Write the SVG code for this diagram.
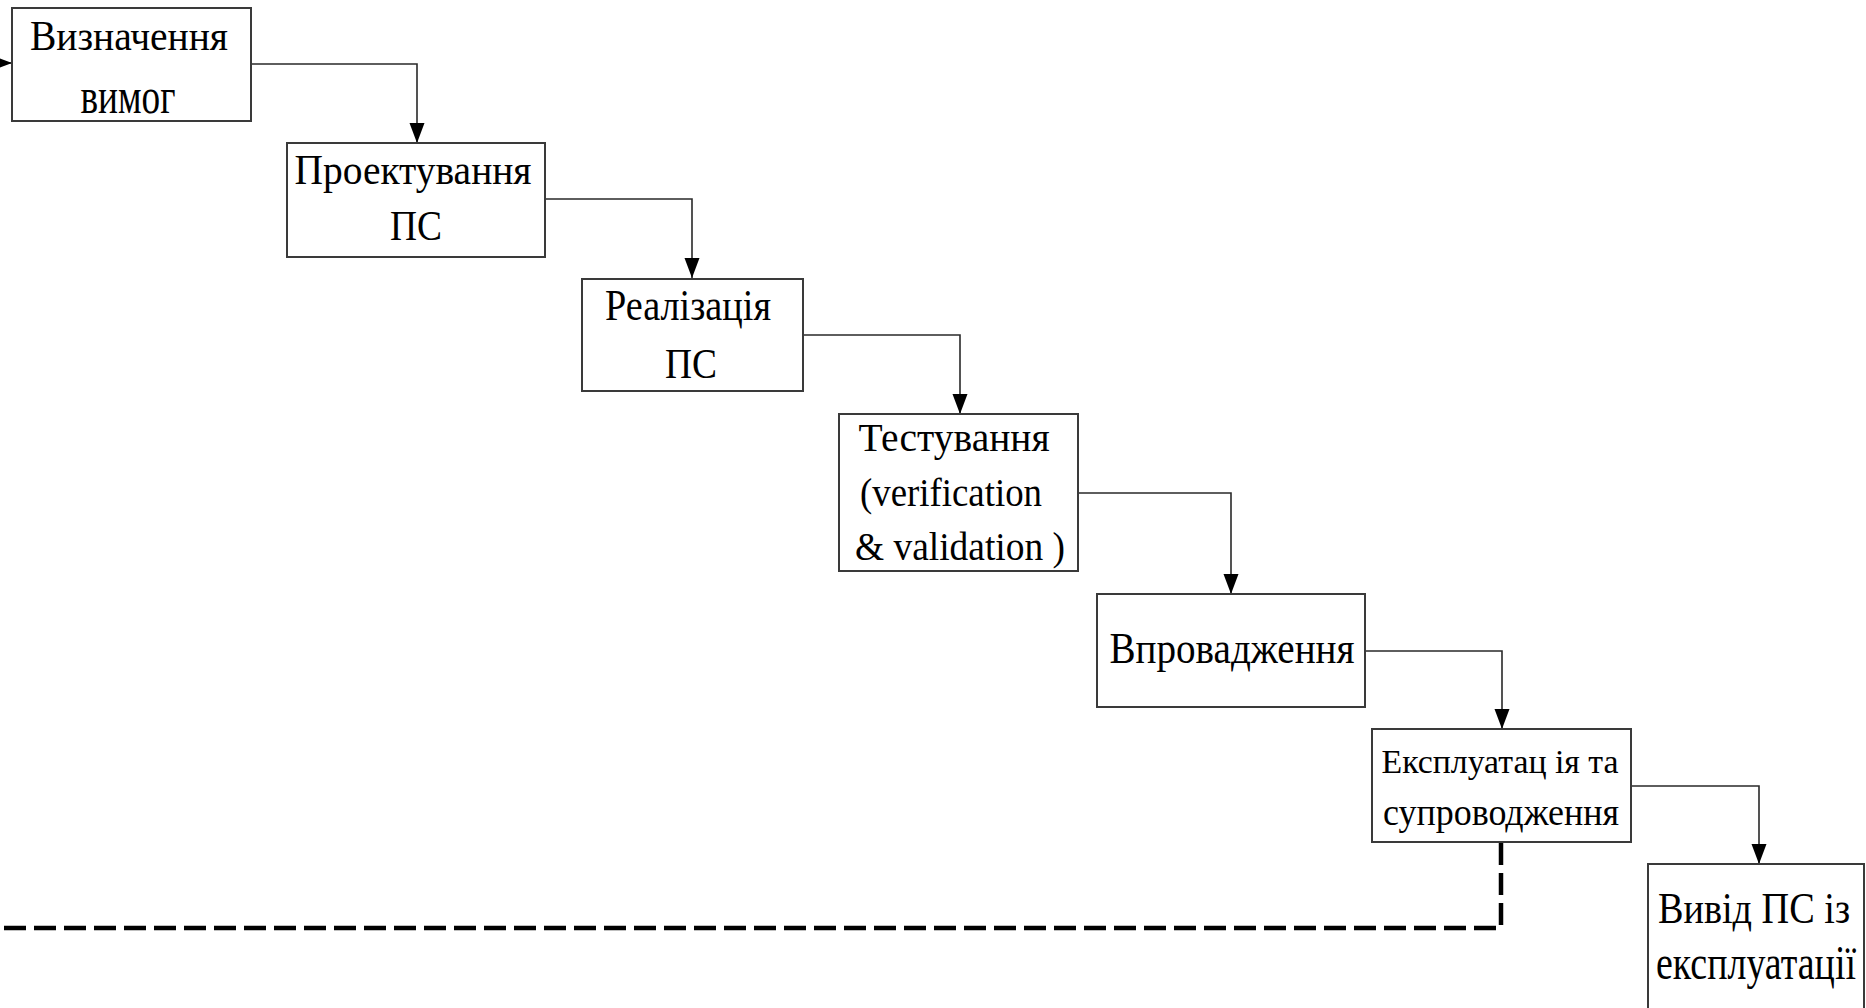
<svg xmlns="http://www.w3.org/2000/svg" width="1866" height="1008" viewBox="0 0 1866 1008">
  <style>
    .box { fill: #ffffff; stroke: #3a3a3a; stroke-width: 2; }
    .lbl { font-family: "Liberation Serif", "Times New Roman", serif; fill: #000000; text-anchor: middle; }
    .flow { fill: none; stroke: #2a2a2a; stroke-width: 1.6; }
    .loop { fill: none; stroke: #000000; stroke-width: 4.5; stroke-dasharray: 22 8; }
  </style>
  <defs>
    <marker id="arrow" markerUnits="userSpaceOnUse" markerWidth="20" markerHeight="16" refX="20" refY="8" orient="auto">
      <path d="M0,0.5 L20,8 L0,15.5 z" fill="#000000"/>
    </marker>
  </defs>
  <rect width="1866" height="1008" fill="#ffffff"/>

  <!-- connectors -->
  <g id="connectors">
    <path class="flow" d="M-10,63 H12" marker-end="url(#arrow)"/>
    <path class="flow" d="M251,64 H417 V143" marker-end="url(#arrow)"/>
    <path class="flow" d="M545,199 H692 V278" marker-end="url(#arrow)"/>
    <path class="flow" d="M803,335 H960 V414" marker-end="url(#arrow)"/>
    <path class="flow" d="M1078,493 H1231 V594" marker-end="url(#arrow)"/>
    <path class="flow" d="M1365,651 H1502 V729" marker-end="url(#arrow)"/>
    <path class="flow" d="M1631,786 H1759 V864" marker-end="url(#arrow)"/>
    <path class="loop" d="M1501,843 V928 H0"/>
  </g>

  <!-- stages -->
  <g id="requirements">
    <rect class="box" x="12" y="8" width="239" height="113"/>
    <text class="lbl" x="129" y="50" font-size="42" textLength="198" lengthAdjust="spacingAndGlyphs">Визначення</text>
    <text class="lbl" x="128" y="113" font-size="50" textLength="95" lengthAdjust="spacingAndGlyphs">вимог</text>
  </g>

  <g id="design">
    <rect class="box" x="287" y="143" width="258" height="114"/>
    <text class="lbl" x="413" y="184" font-size="42" textLength="237" lengthAdjust="spacingAndGlyphs">Проектування</text>
    <text class="lbl" x="416" y="240" font-size="42" textLength="52" lengthAdjust="spacingAndGlyphs">ПС</text>
  </g>

  <g id="implementation">
    <rect class="box" x="582" y="279" width="221" height="112"/>
    <text class="lbl" x="688" y="320" font-size="44" textLength="166" lengthAdjust="spacingAndGlyphs">Реалізація</text>
    <text class="lbl" x="691" y="378" font-size="42" textLength="52" lengthAdjust="spacingAndGlyphs">ПС</text>
  </g>

  <g id="testing">
    <rect class="box" x="839" y="414" width="239" height="157"/>
    <g transform="translate(954,0) scale(0.85,1)">
      <text class="lbl" x="0" y="451" font-size="41" textLength="225" lengthAdjust="spacingAndGlyphs">Тестування</text>
    </g>
    <g transform="translate(951,0) scale(0.85,1)">
      <text class="lbl" x="0" y="506" font-size="41" textLength="214" lengthAdjust="spacingAndGlyphs">(verification</text>
    </g>
    <g transform="translate(960,0) scale(0.85,1)">
      <text class="lbl" x="0" y="560" font-size="40" textLength="247" lengthAdjust="spacingAndGlyphs">&amp; validation )</text>
    </g>
  </g>

  <g id="deployment">
    <rect class="box" x="1097" y="594" width="268" height="113"/>
    <text class="lbl" x="1232" y="663" font-size="45" textLength="245" lengthAdjust="spacingAndGlyphs">Впровадження</text>
  </g>

  <g id="operation">
    <rect class="box" x="1372" y="729" width="259" height="113"/>
    <text class="lbl" x="1500" y="773" font-size="34" textLength="237" lengthAdjust="spacingAndGlyphs">Експлуатац ія та</text>
    <text class="lbl" x="1501" y="825" font-size="38" textLength="236" lengthAdjust="spacingAndGlyphs">супроводження</text>
  </g>

  <!-- last stage runs past the right and bottom edges of the sheet -->
  <g id="retirement">
    <rect class="box" x="1648" y="864" width="216" height="160"/>
    <text class="lbl" x="1754" y="923" font-size="45" textLength="192" lengthAdjust="spacingAndGlyphs">Вивід ПС із</text>
    <text class="lbl" x="1756" y="979" font-size="48" textLength="200" lengthAdjust="spacingAndGlyphs">експлуатації</text>
  </g>
</svg>
